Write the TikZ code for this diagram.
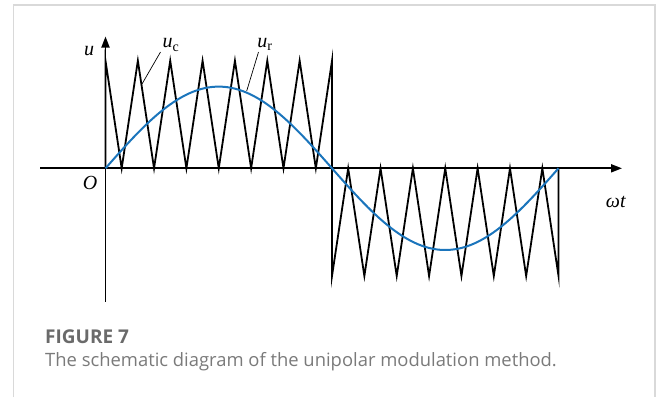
\documentclass[tikz,border=0pt]{standalone}
\usepackage{fontspec}
\setmainfont{Liberation Serif}
\newfontfamily\capfont{Open Sans}
\usetikzlibrary{arrows.meta,positioning}
\definecolor{ink}{HTML}{000000}
\definecolor{wave}{HTML}{1B75BC}
\definecolor{framegray}{HTML}{D9D9D9}
\definecolor{capgray}{HTML}{6A6A6A}
\definecolor{textgray}{HTML}{7A7A7A}

\begin{document}
\begin{tikzpicture}[
  x=1pt,y=-1pt,
  every node/.style={font=\fontsize{20}{22}\selectfont,inner sep=0pt},
  axis/.style={line width=1.9pt,color=ink,-{Triangle[length=11pt,width=8pt]}},
  carrier/.style={line width=1.8pt,color=ink,line join=miter,miter limit=20},
  ref/.style={line width=2pt,color=wave},
  leader/.style={line width=0.7pt,color=ink},
  caption/.style={anchor=base west,color=capgray}
]
\useasboundingbox (0,0) rectangle (656,397);
% frame of the figure
\draw[framegray,line width=1.6pt] (13.3,397) -- (13.3,5) -- (655,5) -- (655,397);

% axes
\coordinate (O) at (105.5,168.3);
\coordinate (xstart) at (40,168.3);
\coordinate (xend) at (622,168.3);
\coordinate (ybot) at (105.5,301.7);
\coordinate (ytop) at (105.5,36.5);
\draw[axis] (xstart) -- (xend);
\draw[axis] (ybot) -- (ytop);

% carrier u_c (7 periods each half)
\draw[carrier] (O) -- (105.5,60.7)
  \foreach \k in {0,...,6} { -- ({105.5+32.36*\k+16.18},168.3) -- ({105.5+32.36*(\k+1)},60.7) }
  -- (332,276)
  \foreach \k in {0,...,6} { -- ({332+32.36*\k+16.18},168.3) -- ({332+32.36*(\k+1)},276) }
  -- (558.5,168.3);

% reference u_r
\draw[ref] plot[domain=0:360,samples=120] ({105.5+\x/180*226.5},{168.3-81.7*sin(\x)});

% labels
\node (u) at (89,51) {\textit{u}};
\node (origin) at (90,183) {\textit{O}};
\node (wt) at (616,202) {\textit{ωt}};
\node (uc) at (171,45) {\textit{u}\textsubscript{c}};
\node (ur) at (265,44) {\textit{u}\textsubscript{r}};
\coordinate (ucEnd) at (142,84);
\coordinate (urEnd) at (246.7,91);
\draw[leader] (160.5,52) coordinate (ucStart) -- (ucEnd);
\draw[leader] (258.5,52) coordinate (urStart) -- (urEnd);

% caption
\node[caption,font=\capfont\bfseries\fontsize{19}{22}\selectfont] (fig) at (45,343) {FIGURE 7};
\node[caption,text=textgray,font=\capfont\fontsize{18.4}{22}\selectfont] (cap) at (45,366) {The schematic diagram of the unipolar modulation method.};
\end{tikzpicture}
\end{document}
